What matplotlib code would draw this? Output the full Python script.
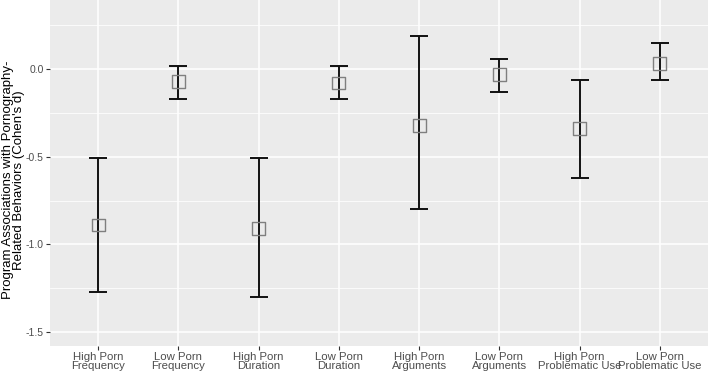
import matplotlib
matplotlib.use("Agg")
import matplotlib.pyplot as plt
import numpy as np

categories = ["High Porn\nFrequency", "Low Porn\nFrequency", "High Porn\nDuration", "Low Porn\nDuration",
              "High Porn\nArguments", "Low Porn\nArguments", "High Porn\nProblematic Use", "Low Porn\nProblematic Use"]
estimates = [-0.89, -0.07, -0.91, -0.08, -0.32, -0.03, -0.34, 0.03]
ci_low = [-1.27, -0.17, -1.30, -0.17, -0.80, -0.13, -0.62, -0.06]
ci_high = [-0.51, 0.02, -0.51, 0.02, 0.19, 0.06, -0.06, 0.15]
yticks = [-1.5, -1.0, -0.5, 0.0]

plt.rcParams['font.family'] = ['Liberation Sans', 'DejaVu Sans']
fig = plt.figure(figsize=(7.08, 3.72), dpi=100)
ax = fig.add_axes([50/708, 26/372, 658/708, 346/372])
ax.set_facecolor("#EBEBEB")
x = np.arange(1, len(categories) + 1)
est = np.array(estimates)
lo = np.array(ci_low)
hi = np.array(ci_high)
ax.errorbar(x, est, yerr=[est - lo, hi - est], fmt='none', ecolor='#111111', elinewidth=1.4,
            capsize=6.5, capthick=1.4, zorder=3)
ax.scatter(x, est, marker='s', s=85, facecolors='none', edgecolors='#7F7F7F', linewidths=1.0, zorder=4)

ax.set_xlim(0.4, 8.6)
ax.set_ylim(-1.58, 0.394)
ax.set_xticks(x)
ax.set_xticklabels(categories, fontsize=8.2, color='#4D4D4D', linespacing=0.9)
ax.set_yticks(yticks)
ax.set_yticklabels([f"{v:.1f}" for v in yticks], fontsize=7.5, color='#4D4D4D')
ax.set_yticks([-1.25, -0.75, -0.25, 0.25], minor=True)
ax.grid(True, which='major', color='white', linewidth=1.1)
ax.grid(True, which='minor', axis='y', color='white', linewidth=0.55)
ax.set_axisbelow(True)
for s in ax.spines.values():
    s.set_visible(False)
ax.tick_params(axis='both', which='major', length=3, color='#333333', pad=1.5)
ax.tick_params(axis='x', which='major', pad=1.0)
ax.tick_params(axis='y', which='minor', length=0)
fig.text(13.5/708, 1 - 180/372, "Program Associations with Pornography-\nRelated Behaviors (Cohen's d)",
         rotation=90, fontsize=9.5, linespacing=0.92, ha='center', va='center')
fig.savefig("out.png", dpi=100)
